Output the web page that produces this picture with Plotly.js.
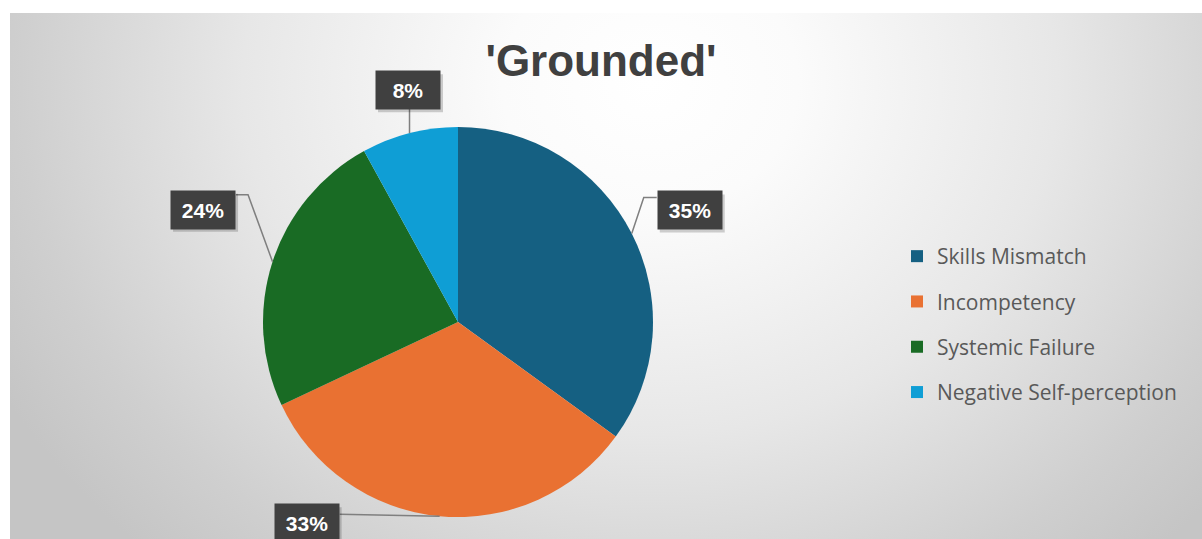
<!DOCTYPE html>
<html><head><meta charset="utf-8">
<script src="https://cdn.plot.ly/plotly-3.0.1.min.js"></script>
<style>
html,body{margin:0;padding:0;background:#fff;width:1202px;height:539px;overflow:hidden}
#bg{position:absolute;left:10px;top:13px;width:1192px;height:526px;
 background:radial-gradient(ellipse 740px 640px at 640px 70px,#ffffff 0%,#fbfbfb 20%,#e7e7e7 55%,#cfcfcf 85%,#c5c5c5 100%);}
#chart{position:absolute;left:0;top:0;width:1202px;height:539px}
</style></head><body>
<div id="bg"></div><div id="chart"></div>
<script>
// ---- data ----
const categories = ['Skills Mismatch', 'Incompetency', 'Systemic Failure', 'Negative Self-perception'];
const shares = [35, 33, 24, 8];
const sliceColors = ['#156082', '#E97132', '#196B24', '#0F9ED5'];
const chartTitle = "'Grounded'";

// ---- layout settings (pixels) ----
const W = 1202, H = 539;
const pieCenter = [458, 322], pieRadius = 195;
// label box centre offset from the slice's edge point, and leader line vertices
const labelBoxOffset = [[58, -23], [-133, 7], [-69.5, -52], [-1.5, -43]];
const leaderOffsets = [[[12, -36], [25, -36]], [[-100, -2]], [[-24.5, -67], [-36.5, -67]], [[0, -25]]];

const px2x = p => p / W, px2y = p => 1 - p / H;
const total = shares.reduce((a, b) => a + b, 0);

const traces = [{
  type: 'pie', values: shares, labels: categories, sort: false, direction: 'clockwise', rotation: 0,
  marker: {colors: sliceColors, line: {width: 0}}, textinfo: 'none', showlegend: false,
  hovertemplate: '%{label}: %{percent}<extra></extra>',
  domain: {x: [px2x(pieCenter[0] - pieRadius), px2x(pieCenter[0] + pieRadius)],
           y: [px2y(pieCenter[1] + pieRadius), px2y(pieCenter[1] - pieRadius)]}
}];
// legend entries
categories.forEach((c, i) => traces.push({
  type: 'scatter', x: [null], y: [null], mode: 'markers', name: c, legendgroup: 'g' + i,
  marker: {symbol: 'square', size: 12, color: sliceColors[i]}, hoverinfo: 'skip', showlegend: true
}));

const annotations = [], shapes = [];
let cum = 0;
shares.forEach((v, i) => {
  const mid = (cum + v / 2) / total; cum += v;
  const th = 2 * Math.PI * mid;
  const ex = pieCenter[0] + pieRadius * Math.sin(th);
  const ey = pieCenter[1] - pieRadius * Math.cos(th);
  let path = 'M' + px2x(ex) + ',' + px2y(ey);
  leaderOffsets[i].forEach(o => { path += ' L' + px2x(ex + o[0]) + ',' + px2y(ey + o[1]); });
  shapes.push({type: 'path', xref: 'paper', yref: 'paper', path: path, line: {color: '#7f7f7f', width: 1.5}});
  const bx = ex + labelBoxOffset[i][0], by = ey + labelBoxOffset[i][1];
  // soft shadow behind the label box
  shapes.push({type: 'rect', xref: 'paper', yref: 'paper', layer: 'above',
    x0: px2x(bx - 30), x1: px2x(bx + 35), y0: px2y(by - 16), y1: px2y(by + 22),
    fillcolor: 'rgba(0,0,0,0.18)', line: {width: 0}});
  annotations.push({
    xref: 'paper', yref: 'paper', x: px2x(bx), y: px2y(by),
    xanchor: 'center', yanchor: 'middle', showarrow: false,
    text: Math.round(v / total * 100) + '%',
    font: {family: 'Liberation Sans, Arial, sans-serif', size: 21, color: '#ffffff', weight: 'bold'},
    bgcolor: '#404040', borderpad: 6, width: 52, height: 26
  });
});

const layout = {
  width: W, height: H, margin: {l: 0, r: 0, t: 0, b: 0},
  paper_bgcolor: 'rgba(0,0,0,0)', plot_bgcolor: 'rgba(0,0,0,0)',
  title: {text: chartTitle, x: 0.5, xref: 'container', y: 1 - 61 / H, yref: 'container', yanchor: 'middle',
          font: {family: 'Liberation Sans, Arial, sans-serif', size: 44, color: '#404040', weight: 'bold'}},
  xaxis: {visible: false}, yaxis: {visible: false},
  showlegend: true,
  legend: {x: px2x(897), xanchor: 'left', y: px2y(236), yanchor: 'top', traceorder: 'grouped', tracegroupgap: 15,
           bgcolor: 'rgba(0,0,0,0)', font: {family: 'Open Sans, sans-serif', size: 21, color: '#595959'}},
  annotations: annotations, shapes: shapes
};
Plotly.newPlot('chart', traces, layout, {displayModeBar: false});
</script>
</body></html>
